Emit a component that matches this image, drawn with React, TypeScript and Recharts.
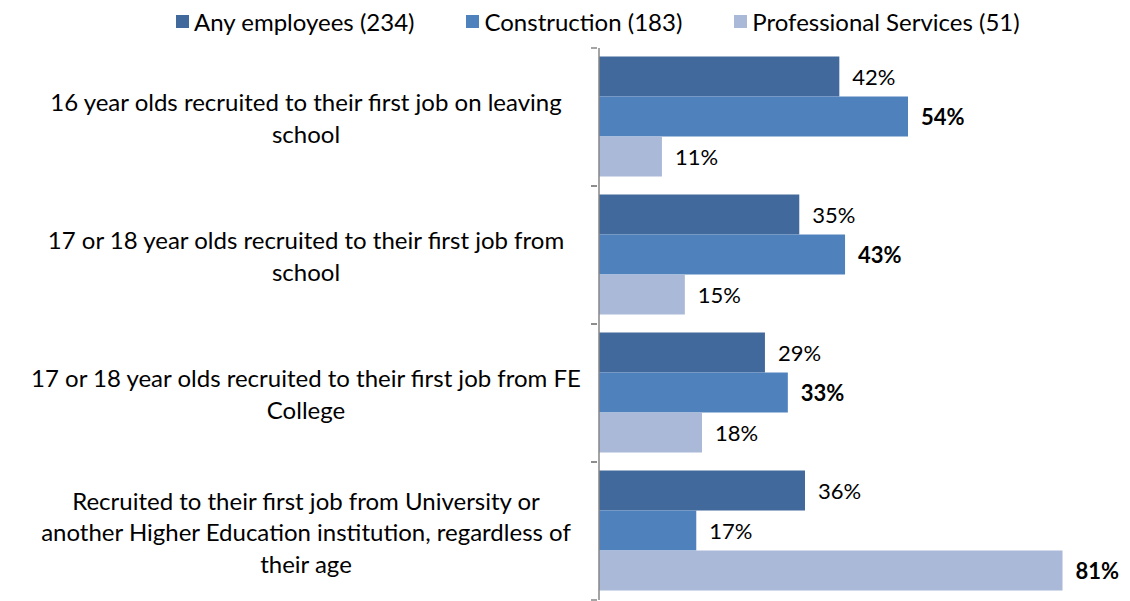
import { BarChart, Bar, XAxis, YAxis, Legend, LabelList } from "recharts";

// categories (line breaks as in the original)
const categories = [
  "16 year olds recruited to their first job on leaving\nschool",
  "17 or 18 year olds recruited to their first job from\nschool",
  "17 or 18 year olds recruited to their first job from FE\nCollege",
  "Recruited to their first job from University or\nanother Higher Education institution, regardless of\ntheir age",
];

const seriesNames = ["Any employees (234)", "Construction (183)", "Professional Services (51)"];
const anyEmployees = [42, 35, 29, 36];
const construction = [54, 43, 33, 17];
const professional = [11, 15, 18, 81];

const colors = ["#41699B", "#4F81BD", "#AAB9D7"];
const keys = ["any", "construction", "professional"];

const data = categories.map((name, i) => ({
  name,
  any: anyEmployees[i],
  construction: construction[i],
  professional: professional[i],
}));

const FONT = "Lato, 'Noto Sans', sans-serif";
const FS = 24;
const CHART_W = 1122;
const CHART_H = 593;
const MARGIN = { top: 14, right: 16, bottom: 1, left: 0 };
const LEGEND_H = 26;
const PLOT_H = CHART_H - MARGIN.top - LEGEND_H - MARGIN.bottom;
const HALF_BAND = PLOT_H / categories.length / 2;

const CategoryTick = (props: any) => {
  const { x, y, payload } = props;
  const lines = String(payload.value).split("\n");
  const lh = 31.5;
  const start = y - ((lines.length - 1) * lh) / 2;
  return (
    <g>
      <line x1={x} x2={x + 6} y1={y - HALF_BAND} y2={y - HALF_BAND} stroke="#868686" strokeWidth={1.5} />
      <line x1={x} x2={x + 6} y1={y + HALF_BAND} y2={y + HALF_BAND} stroke="#868686" strokeWidth={1.5} />
      <text x={298} y={start} textAnchor="middle" dominantBaseline="central" fill="#000" fontSize={FS} fontFamily={FONT}>
        {lines.map((l, i) => (
          <tspan key={i} x={298} y={start + i * lh}>
            {l}
          </tspan>
        ))}
      </text>
    </g>
  );
};

const makeLabel = (key: string) => (props: any) => {
  const { x, y, width, height, value, index } = props;
  const row: any = data[index];
  const best = Math.max(row.any, row.construction, row.professional);
  const bold = row[key] === best;
  return (
    <text
      x={x + width + 13}
      y={y + height / 2}
      dominantBaseline="central"
      fontSize={22}
      fontFamily={FONT}
      fontWeight={bold ? 700 : 400}
      fill="#000"
    >
      {value}%
    </text>
  );
};

const LegendContent = () => (
  <div style={{ display: "flex", height: LEGEND_H, alignItems: "center", paddingLeft: 168, fontFamily: FONT, fontSize: FS }}>
    {seriesNames.map((s, i) => (
      <div key={s} style={{ display: "flex", alignItems: "center", marginRight: 52 }}>
        <span style={{ width: 13, height: 13, background: colors[i], display: "inline-block", marginRight: 5 }} />
        <span style={{ color: "#000", whiteSpace: "nowrap" }}>{s}</span>
      </div>
    ))}
  </div>
);

export default function App() {
  return (
    <div style={{ width: CHART_W, height: CHART_H }}>
      <BarChart
        width={CHART_W}
        height={CHART_H}
        data={data}
        layout="vertical"
        margin={MARGIN}
        barGap={0}
        barCategoryGap={8.5}
      >
        <XAxis type="number" domain={[0, 90]} hide />
        <YAxis
          type="category"
          dataKey="name"
          width={591}
          axisLine={{ stroke: "#868686", strokeWidth: 1.5 }}
          tickLine={false}
          tick={<CategoryTick />}
          interval={0}
        />
        <Legend verticalAlign="top" align="left" height={LEGEND_H} wrapperStyle={{ top: 0, left: 0 }} content={<LegendContent />} />
        {keys.map((k, i) => (
          <Bar key={k} dataKey={k} name={seriesNames[i]} fill={colors[i]} isAnimationActive={false}>
            <LabelList dataKey={k} content={makeLabel(k)} />
          </Bar>
        ))}
      </BarChart>
    </div>
  );
}
